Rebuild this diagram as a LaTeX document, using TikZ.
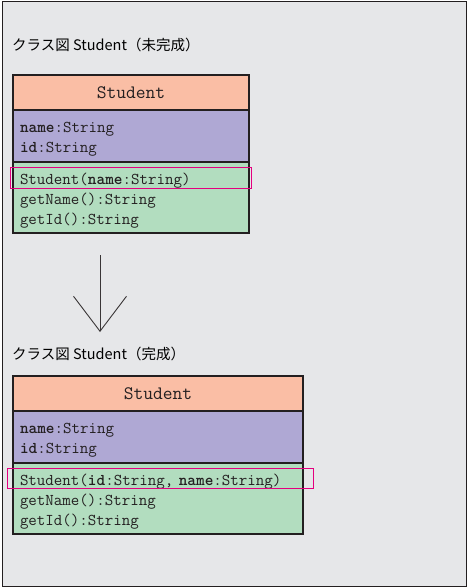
\documentclass[tikz,border=0pt]{standalone}
\usepackage{fontspec}
\usepackage{tikz}
\usepackage{xcolor}
\usetikzlibrary{positioning,arrows.meta}
\newfontfamily\jpfont{Noto Sans CJK JP}
\newcommand{\toprow}{\rule{0pt}{17pt}}
\definecolor{page-bg}{RGB}{230,231,233}
\definecolor{head-fill}{RGB}{250,190,165}
\definecolor{attr-fill}{RGB}{175,168,212}
\definecolor{ops-fill}{RGB}{178,221,191}
\definecolor{mark-pink}{RGB}{228,0,127}
\definecolor{ink}{RGB}{35,31,32}
\tikzset{
    class-part/.style = {draw=ink, line width=2.4pt, rectangle, inner sep=0pt, outer sep=0pt, text=ink},
    class-head/.style = {class-part, fill=head-fill, minimum height=35pt, font=\ttfamily\fontsize{19}{22}\selectfont},
    class-attr/.style = {class-part, fill=attr-fill, minimum height=52pt, align=left, inner xsep=7pt, font=\ttfamily\fontsize{16.5}{20}\selectfont},
    class-ops/.style = {class-part, fill=ops-fill, minimum height=71pt, align=left, inner xsep=7pt, font=\ttfamily\fontsize{16.5}{20}\selectfont},
    diagram-title/.style = {font=\jpfont\fontsize{14.5}{16}\selectfont, inner sep=0pt},
    mark-box/.style = {draw=mark-pink, line width=1pt},
}

\begin{document}
\begin{tikzpicture}[x=1pt, y=-1pt]
\useasboundingbox (0,0) rectangle (468,588);
\draw[ink, line width=1.5pt, fill=page-bg] (2.5,1.5) rectangle (466.5,586.5);

% unfinished class
\node[diagram-title, anchor=west] (title1) at (12,45) {クラス図 Student（未完成）};
\node[class-head, minimum width=236pt, anchor=north west] (head1) at (13,75) {Student};
\node[class-attr, minimum width=236pt, text width=222pt, below=0pt of head1] (attr1) {\toprow\textbf{name}:String\\\textbf{id}:String};
\node[class-ops, minimum width=236pt, text width=222pt, below=0pt of attr1] (ops1) {\toprow Student(\textbf{name}:String)\\getName():String\\getId():String};
\draw[mark-box] (10,167) rectangle (251,188);

\coordinate (arrow-top) at (100,255);
\coordinate (arrow-end) at (100,332);
\draw[ink!90, line width=0.9pt, -{Straight Barb[length=35pt, width=53pt, line width=0.9pt]}] (arrow-top) -- (arrow-end);

% finished class
\node[diagram-title, anchor=west] (title2) at (12,354) {クラス図 Student（完成）};
\node[class-head, minimum width=290pt, anchor=north west] (head2) at (13,376) {Student};
\node[class-attr, minimum width=290pt, text width=276pt, below=0pt of head2] (attr2) {\toprow\textbf{name}:String\\\textbf{id}:String};
\node[class-ops, minimum width=290pt, text width=276pt, below=0pt of attr2] (ops2) {\toprow Student(\textbf{id}:String, \textbf{name}:String)\\getName():String\\getId():String};
\draw[mark-box] (7,468) rectangle (313,488);
\end{tikzpicture}
\end{document}
